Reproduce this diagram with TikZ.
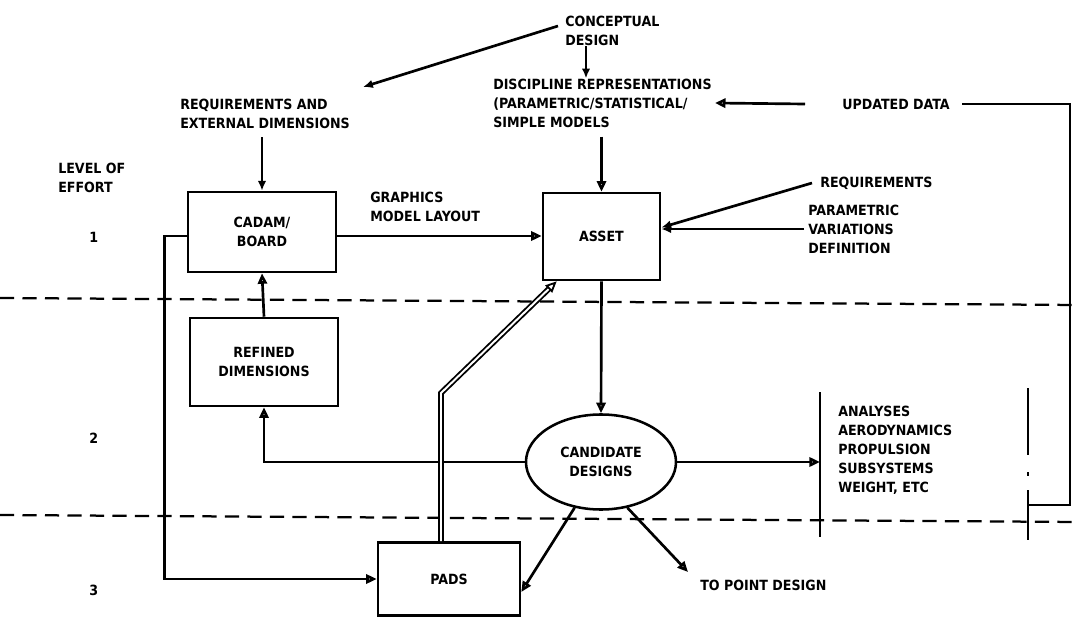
\documentclass[tikz,border=0pt]{standalone}
\usepackage{fontspec}
\setmainfont{DejaVu Sans Condensed}
\usetikzlibrary{arrows.meta,positioning,calc,shapes.geometric}

\begin{document}
\begin{tikzpicture}[x=0.025cm,y=-0.025cm,>=Latex,
  font=\bfseries\fontsize{10}{13.5}\selectfont,
  boxnode/.style={draw,line width=1.8pt,align=center,inner sep=0pt},
  txt/.style={anchor=west,align=left,inner sep=0pt},
  link/.style={line width=1.9pt},
  openarr/.style={link,-{Triangle[open,length=7.5pt,width=6.5pt]}},
  solidarr/.style={link,-{Latex[length=7pt,width=6pt]}},
  levelline/.style={line width=1.6pt,dash pattern=on 10pt off 6pt}]
  \useasboundingbox (0,0) rectangle (1079,617);

  % levels of effort
  \draw[levelline] (0,298) -- (1079,305);
  \draw[levelline] (0,515) -- (1079,522);
  \node[txt] (level) at (58,178) {LEVEL OF\\EFFORT};
  \node[txt] (lvl1) at (89,237) {1};
  \node[txt] (lvl2) at (89,438) {2};
  \node[txt] (lvl3) at (89,590) {3};

  % inputs
  \node[txt] (concept) at (565,31) {CONCEPTUAL\\DESIGN};
  \node[txt] (disc) at (493,103) {DISCIPLINE REPRESENTATIONS\\(PARAMETRIC/STATISTICAL/\\SIMPLE MODELS};
  \node[txt] (reqext) at (180,114) {REQUIREMENTS AND\\EXTERNAL DIMENSIONS};
  \node[txt] (updated) at (842,104) {UPDATED DATA};
  \node[txt] (graphics) at (370,207) {GRAPHICS\\MODEL LAYOUT};
  \node[txt] (req) at (820,183) {REQUIREMENTS};
  \node[txt] (param) at (808,229) {PARAMETRIC\\VARIATIONS\\DEFINITION};
  \node[txt] (analyses) at (838,450) {ANALYSES\\AERODYNAMICS\\PROPULSION\\SUBSYSTEMS\\WEIGHT, ETC};
  \node[txt] (topoint) at (700,585) {TO POINT DESIGN};

  % boxes
  \node[boxnode,minimum width=3.7cm,minimum height=2cm] (cadam) at (262,232) {CADAM/\\BOARD};
  \node[boxnode,minimum width=2.925cm,minimum height=2.175cm] (asset) at (601.5,236.5) {ASSET};
  \node[boxnode,minimum width=3.7cm,minimum height=2.2cm] (refined) at (264,362) {REFINED\\DIMENSIONS};
  \node[boxnode,minimum width=3.55cm,minimum height=1.825cm] (pads) at (449,579) {PADS};
  \node[boxnode,ellipse,minimum width=3.75cm,minimum height=2.375cm] (cand) at (601,462) {CANDIDATE\\DESIGNS};

  % analyses brackets
  \coordinate (anl1) at (820,392);
  \coordinate (anl2) at (820,537);
  \coordinate (anr1) at (1028,388);
  \coordinate (anr2) at (1028,540);
  \coordinate (anrjoin) at (1028,505);
  \draw[line width=1.5pt] (anl1) -- (anl2);
  \draw[line width=1.5pt] (anr1) -- (1028,455) (1028,472) -- (1028,476) (1028,490) -- (anr2);

  % connectors
  \coordinate (reqtip) at (363,87);
  \coordinate (bend) at (441,393);
  \coordinate (toptip) at (688,572);
  \draw[solidarr] ($(concept.west)+(-7,-5)$) -- (reqtip);
  \draw[solidarr] (concept.south -| 586,0) -- (disc.north -| 586,0);
  \draw[solidarr] (cadam.north |- reqext.south) ++(0,8) -- (cadam.north);
  \draw[openarr] (asset.north |- disc.south) ++(0,9) -- (asset.north);
  \draw[openarr] ($(updated.west)+(-37,0)$) -- ($(disc.east)+(3,0)$);
  \draw[link] (anrjoin) -- ++(42,0) |- ($(updated.east)+(12,0)$);
  \draw[openarr] ($(cadam.east)+(0,4)$) -- ($(cadam.east -| asset.west)+(0,4)$);
  \draw[solidarr] ($(req.west)+(-8,0)$) -- ($(asset.east)+(0,-9)$);
  \draw[solidarr] ($(param.west)+(-4,0)$) -- (param.west -| asset.east);
  \draw[openarr] ($(cadam.west)+(0,4)$) -- ++(-22,0) |- (pads.west);
  \draw[openarr] (refined.north) -- (cadam.south);
  \draw[openarr] (cand.west) -| (refined.south);
  \draw[openarr] (asset.south) -- (cand.north);
  \draw[openarr] (cand.east) -- (cand.east -| anl1);
  \draw[link,double,double distance=1.4pt,line width=1.3pt,-{Triangle[open,length=8pt,width=7pt]}]
    (pads.north -| bend) -- (bend) -- ($(asset.south west)+(15,0)$);
  \draw[openarr] (cand.240) -- ($(pads.east)+(0,13)$);
  \draw[openarr] (cand.300) -- (toptip);
\end{tikzpicture}
\end{document}
